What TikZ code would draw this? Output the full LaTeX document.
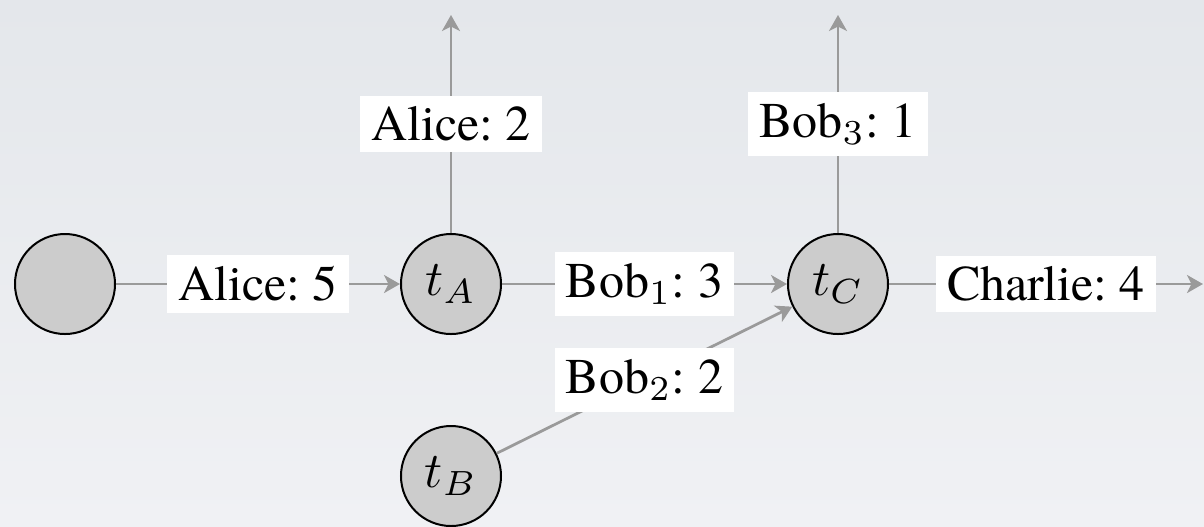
\documentclass[tikz,border=0pt]{standalone}
\usepackage{fontspec}
\setmainfont{TeX Gyre Termes}
\usetikzlibrary{arrows.meta}
\definecolor{bgtop}{RGB}{228,231,235}
\definecolor{bgbot}{RGB}{240,241,244}
\definecolor{edgegray}{RGB}{154,154,154}
\definecolor{nodegray}{RGB}{204,204,204}
\frenchspacing
\begin{document}
\begin{tikzpicture}[x=0.2pt,y=0.2pt,
  state/.style={circle,draw=black,line width=0.4pt,fill=nodegray,minimum size=20pt,inner sep=0pt,font=\fontsize{10}{12}\selectfont},
  flow/.style={draw=edgegray,line width=0.55pt,-{Stealth[length=3.2pt,width=3.6pt,inset=0.9pt]}},
  lab/.style={fill=white,inner sep=2.2pt,font=\fontsize{10}{12}\selectfont,text=black}]
\shade[top color=bgtop,bottom color=bgbot] (0,0) rectangle (1204,526);
\useasboundingbox (0,0) rectangle (1204,526);
\node[state] (s) at (65,242) {};
\node[state] (a) at (451,242) {$t_A$};
\node[state] (c) at (838,242) {$t_C$};
\node[state] (b) at (451,50) {$t_B$};
\coordinate (ua) at (451,511);
\coordinate (uc) at (838,511);
\coordinate (out) at (1203,242);
\draw[flow] (s) -- node[lab]{Alice: 5} (a);
\draw[flow] (a) -- node[lab]{Alice: 2} (ua);
\draw[flow] (a) -- node[lab]{Bob$_1$: 3} (c);
\draw[flow] (b) -- node[lab]{Bob$_2$: 2} (c);
\draw[flow] (c) -- node[lab]{Bob$_3$: 1} (uc);
\draw[flow] (c) -- node[lab]{Charlie: 4} (out);
\end{tikzpicture}
\end{document}
